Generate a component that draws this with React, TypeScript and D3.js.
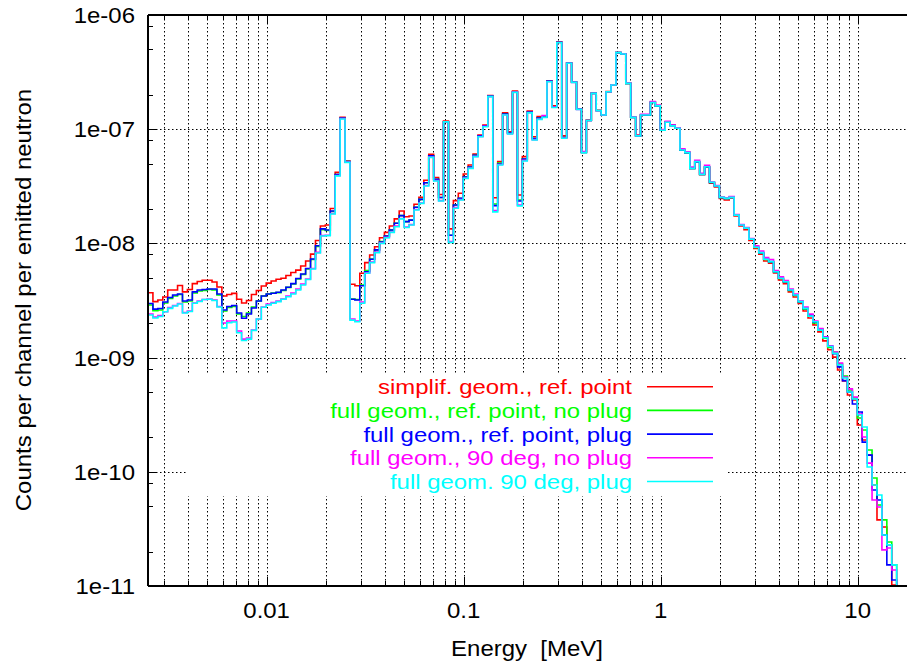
import React from 'react';
import * as d3 from 'd3';

// ---------- binning (log-spaced histogram, 40 bins per decade starting at 2.5 keV) ----------
const FIRST_EDGE = 0.0025; // MeV
const BINS_PER_DECADE = 40;
const N_BINS = 153;
const edges: number[] = d3.range(N_BINS + 1).map((k) => FIRST_EDGE * Math.pow(10, k / BINS_PER_DECADE));

// ---------- series (counts per channel per emitted neutron) ----------
const simplifRefPoint = [
  3.70e-9, 3.09e-9, 3.19e-9, 3.39e-9, 3.91e-9, 3.91e-9, 4.28e-9, 3.76e-9, 3.95e-9, 4.44e-9,
  4.64e-9, 4.75e-9, 4.75e-9, 4.59e-9, 4.15e-9, 3.46e-9, 3.57e-9, 3.65e-9, 3.24e-9, 3.01e-9,
  3.16e-9, 3.57e-9, 3.87e-9, 4.23e-9, 4.49e-9, 4.68e-9, 4.85e-9, 4.95e-9, 5.24e-9, 5.56e-9,
  5.84e-9, 6.34e-9, 7.01e-9, 8.06e-9, 1.06e-8, 1.42e-8, 1.45e-8, 2.02e-8, 4.19e-8, 1.27e-7,
  5.27e-8, 4.39e-9, 4.26e-9, 5.47e-9, 6.79e-9, 7.91e-9, 9.35e-9, 1.12e-8, 1.25e-8, 1.42e-8,
  1.64e-8, 1.92e-8, 1.71e-8, 1.74e-8, 2.20e-8, 2.53e-8, 3.57e-8, 6.03e-8, 3.78e-8, 2.68e-8,
  1.18e-7, 1.34e-8, 2.37e-8, 2.75e-8, 4.05e-8, 4.86e-8, 6.05e-8, 8.90e-8, 1.09e-7, 1.97e-7,
  2.51e-8, 5.20e-8, 1.39e-7, 9.50e-8, 2.16e-7, 2.65e-8, 5.75e-8, 1.44e-7, 8.60e-8, 1.29e-7,
  1.29e-7, 2.66e-7, 1.60e-7, 5.81e-7, 8.74e-8, 3.80e-7, 2.59e-7, 1.51e-7, 6.33e-8, 1.20e-7,
  2.07e-7, 1.46e-7, 1.34e-7, 2.14e-7, 2.44e-7, 4.68e-7, 4.55e-7, 2.52e-7, 1.28e-7, 8.90e-8,
  1.33e-7, 1.33e-7, 1.72e-7, 1.60e-7, 9.80e-8, 1.16e-7, 1.08e-7, 1.02e-7, 6.57e-8, 6.23e-8,
  4.54e-8, 5.16e-8, 4.01e-8, 4.66e-8, 3.37e-8, 3.12e-8, 2.47e-8, 2.40e-8, 2.50e-8, 1.74e-8,
  1.42e-8, 1.32e-8, 1.06e-8, 9.01e-9, 8.06e-9, 7.01e-9, 6.72e-9, 5.51e-9, 4.78e-9, 4.44e-9,
  3.76e-9, 3.39e-9, 2.98e-9, 2.56e-9, 2.22e-9, 1.93e-9, 1.68e-9, 1.40e-9, 1.17e-9, 1.01e-9,
  7.79e-10, 6.24e-10, 4.70e-10, 4.25e-10, 2.57e-10, 1.90e-10, 1.40e-10, 7.66e-11, 3.79e-11, 3.29e-11,
  2.29e-11, 1.02e-11, 1e-12,
];

const fullRefPointNoPlug = [
  2.89e-9, 2.58e-9, 2.61e-9, 3.01e-9, 3.29e-9, 3.46e-9, 3.57e-9, 3.07e-9, 3.13e-9, 3.68e-9,
  3.83e-9, 3.87e-9, 3.95e-9, 3.91e-9, 3.53e-9, 2.56e-9, 2.75e-9, 2.80e-9, 2.41e-9, 2.29e-9,
  2.46e-9, 2.77e-9, 3.13e-9, 3.46e-9, 3.61e-9, 3.68e-9, 3.71e-9, 3.87e-9, 4.12e-9, 4.41e-9,
  4.88e-9, 5.34e-9, 5.97e-9, 7.23e-9, 9.39e-9, 1.32e-8, 1.30e-8, 1.90e-8, 4.01e-8, 1.25e-7,
  5.20e-8, 3.26e-9, 3.23e-9, 4.32e-9, 5.78e-9, 7.31e-9, 8.77e-9, 1.04e-8, 1.16e-8, 1.31e-8,
  1.50e-8, 1.75e-8, 1.55e-8, 1.60e-8, 2.07e-8, 2.43e-8, 3.40e-8, 5.84e-8, 3.65e-8, 2.52e-8,
  1.16e-7, 1.18e-8, 2.17e-8, 2.48e-8, 3.82e-8, 4.66e-8, 5.90e-8, 8.74e-8, 1.07e-7, 1.95e-7,
  2.21e-8, 5.06e-8, 1.36e-7, 9.27e-8, 2.12e-7, 2.40e-8, 5.48e-8, 1.41e-7, 8.30e-8, 1.25e-7,
  1.28e-7, 2.64e-7, 1.57e-7, 5.78e-7, 8.46e-8, 3.80e-7, 2.59e-7, 1.50e-7, 6.25e-8, 1.19e-7,
  2.06e-7, 1.46e-7, 1.33e-7, 2.13e-7, 2.44e-7, 4.68e-7, 4.55e-7, 2.52e-7, 1.27e-7, 8.74e-8,
  1.33e-7, 1.33e-7, 1.72e-7, 1.60e-7, 9.80e-8, 1.16e-7, 1.08e-7, 1.02e-7, 6.57e-8, 6.23e-8,
  4.54e-8, 5.16e-8, 4.01e-8, 4.66e-8, 3.41e-8, 3.18e-8, 2.52e-8, 2.47e-8, 2.53e-8, 1.77e-8,
  1.45e-8, 1.36e-8, 1.09e-8, 9.20e-9, 8.24e-9, 7.23e-9, 6.88e-9, 5.62e-9, 4.93e-9, 4.59e-9,
  3.87e-9, 3.50e-9, 3.07e-9, 2.66e-9, 2.31e-9, 2.01e-9, 1.74e-9, 1.48e-9, 1.23e-9, 1.12e-9,
  8.78e-10, 6.89e-10, 5.21e-10, 4.43e-10, 2.96e-10, 2.32e-10, 1.55e-10, 8.83e-11, 5.12e-11, 3.79e-11,
  2.43e-11, 1.53e-11, 1e-12,
];

const fullRefPointPlug = [
  2.98e-9, 2.66e-9, 2.69e-9, 3.07e-9, 3.36e-9, 3.53e-9, 3.61e-9, 3.13e-9, 3.19e-9, 3.76e-9,
  3.91e-9, 3.95e-9, 3.99e-9, 3.99e-9, 3.61e-9, 2.61e-9, 2.80e-9, 2.86e-9, 2.46e-9, 2.21e-9,
  2.41e-9, 2.72e-9, 3.13e-9, 3.46e-9, 3.61e-9, 3.66e-9, 3.73e-9, 3.91e-9, 4.13e-9, 4.44e-9,
  4.93e-9, 5.40e-9, 6.03e-9, 7.31e-9, 9.53e-9, 1.34e-8, 1.31e-8, 1.92e-8, 4.01e-8, 1.25e-7,
  5.20e-8, 3.24e-9, 3.19e-9, 4.26e-9, 5.65e-9, 7.26e-9, 8.77e-9, 1.03e-8, 1.16e-8, 1.31e-8,
  1.50e-8, 1.75e-8, 1.55e-8, 1.60e-8, 2.07e-8, 2.43e-8, 3.40e-8, 5.84e-8, 3.65e-8, 2.52e-8,
  1.16e-7, 1.18e-8, 2.17e-8, 2.48e-8, 3.82e-8, 4.66e-8, 5.90e-8, 8.74e-8, 1.07e-7, 1.95e-7,
  2.14e-8, 4.96e-8, 1.36e-7, 9.27e-8, 2.12e-7, 2.35e-8, 5.48e-8, 1.41e-7, 8.30e-8, 1.25e-7,
  1.28e-7, 2.64e-7, 1.57e-7, 5.78e-7, 8.46e-8, 3.80e-7, 2.59e-7, 1.50e-7, 6.25e-8, 1.19e-7,
  2.06e-7, 1.46e-7, 1.33e-7, 2.13e-7, 2.44e-7, 4.68e-7, 4.55e-7, 2.52e-7, 1.27e-7, 8.74e-8,
  1.33e-7, 1.33e-7, 1.72e-7, 1.60e-7, 9.80e-8, 1.16e-7, 1.08e-7, 1.02e-7, 6.57e-8, 6.23e-8,
  4.54e-8, 5.16e-8, 4.01e-8, 4.66e-8, 3.41e-8, 3.18e-8, 2.52e-8, 2.47e-8, 2.53e-8, 1.77e-8,
  1.45e-8, 1.36e-8, 1.09e-8, 9.24e-9, 8.30e-9, 7.26e-9, 6.92e-9, 5.65e-9, 4.95e-9, 4.62e-9,
  3.91e-9, 3.53e-9, 3.09e-9, 2.70e-9, 2.36e-9, 2.05e-9, 1.78e-9, 1.51e-9, 1.26e-9, 1.08e-9,
  8.29e-10, 6.29e-10, 5.00e-10, 3.92e-10, 3.34e-10, 1.82e-10, 1.40e-10, 6.93e-11, 5.66e-11, 2.80e-11,
  1.53e-11, 1.13e-11, 1e-12,
];

const full90DegNoPlug = [
  2.41e-9, 2.27e-9, 2.34e-9, 2.52e-9, 2.75e-9, 2.86e-9, 2.98e-9, 2.48e-9, 2.56e-9, 3.01e-9,
  3.13e-9, 3.23e-9, 3.26e-9, 3.19e-9, 2.80e-9, 2.01e-9, 2.09e-9, 2.09e-9, 1.71e-9, 1.45e-9,
  1.48e-9, 1.74e-9, 2.18e-9, 2.77e-9, 2.95e-9, 3.04e-9, 3.13e-9, 3.26e-9, 3.46e-9, 3.68e-9,
  3.99e-9, 4.41e-9, 4.88e-9, 6.03e-9, 8.34e-9, 1.17e-8, 1.18e-8, 1.83e-8, 3.93e-8, 1.24e-7,
  5.16e-8, 2.18e-9, 2.09e-9, 3.07e-9, 5.51e-9, 6.88e-9, 8.42e-9, 1.01e-8, 1.13e-8, 1.26e-8,
  1.42e-8, 1.65e-8, 1.39e-8, 1.46e-8, 1.98e-8, 2.26e-8, 3.21e-8, 5.70e-8, 3.55e-8, 2.37e-8,
  1.16e-7, 1.04e-8, 2.06e-8, 2.42e-8, 3.74e-8, 4.57e-8, 5.78e-8, 8.63e-8, 1.06e-7, 1.93e-7,
  1.94e-8, 4.91e-8, 1.34e-7, 9.13e-8, 2.12e-7, 2.17e-8, 5.33e-8, 1.40e-7, 8.11e-8, 1.23e-7,
  1.32e-7, 2.62e-7, 1.56e-7, 5.75e-7, 8.36e-8, 3.78e-7, 2.57e-7, 1.49e-7, 6.38e-8, 1.19e-7,
  2.06e-7, 1.45e-7, 1.33e-7, 2.13e-7, 2.45e-7, 4.69e-7, 4.58e-7, 2.54e-7, 1.28e-7, 8.79e-8,
  1.35e-7, 1.35e-7, 1.75e-7, 1.63e-7, 9.94e-8, 1.17e-7, 1.09e-7, 1.03e-7, 6.72e-8, 6.33e-8,
  4.66e-8, 5.33e-8, 4.10e-8, 4.82e-8, 3.45e-8, 3.21e-8, 2.55e-8, 2.50e-8, 2.57e-8, 1.79e-8,
  1.46e-8, 1.38e-8, 1.10e-8, 9.53e-9, 8.58e-9, 7.50e-9, 7.23e-9, 5.78e-9, 5.09e-9, 4.73e-9,
  3.99e-9, 3.61e-9, 3.13e-9, 2.77e-9, 2.41e-9, 2.09e-9, 1.80e-9, 1.51e-9, 1.26e-9, 1.12e-9,
  8.96e-10, 6.77e-10, 5.32e-10, 4.52e-10, 3.21e-10, 2.02e-10, 1.19e-10, 5.66e-11, 4.92e-11, 2.07e-11,
  2.15e-11, 1.38e-11, 1e-12,
];

const full90DegPlug = [
  2.36e-9, 2.22e-9, 2.29e-9, 2.52e-9, 2.70e-9, 2.83e-9, 2.95e-9, 2.46e-9, 2.53e-9, 2.99e-9,
  3.10e-9, 3.23e-9, 3.24e-9, 3.16e-9, 2.77e-9, 1.82e-9, 2.02e-9, 2.05e-9, 1.65e-9, 1.41e-9,
  1.45e-9, 1.73e-9, 2.18e-9, 2.76e-9, 2.89e-9, 2.99e-9, 3.09e-9, 3.24e-9, 3.41e-9, 3.61e-9,
  3.91e-9, 4.32e-9, 4.83e-9, 5.97e-9, 8.24e-9, 1.16e-8, 1.17e-8, 1.81e-8, 3.90e-8, 1.23e-7,
  5.12e-8, 2.13e-9, 2.06e-9, 2.99e-9, 5.47e-9, 6.79e-9, 8.30e-9, 1.00e-8, 1.12e-8, 1.25e-8,
  1.40e-8, 1.64e-8, 1.38e-8, 1.45e-8, 1.96e-8, 2.24e-8, 3.18e-8, 5.67e-8, 3.52e-8, 2.35e-8,
  1.16e-7, 1.02e-8, 2.03e-8, 2.40e-8, 3.71e-8, 4.54e-8, 5.75e-8, 8.60e-8, 1.05e-7, 1.93e-7,
  1.89e-8, 4.86e-8, 1.33e-7, 9.08e-8, 2.10e-7, 2.13e-8, 5.27e-8, 1.39e-7, 8.04e-8, 1.22e-7,
  1.27e-7, 2.60e-7, 1.55e-7, 5.72e-7, 8.32e-8, 3.78e-7, 2.57e-7, 1.49e-7, 6.23e-8, 1.19e-7,
  2.06e-7, 1.45e-7, 1.33e-7, 2.13e-7, 2.44e-7, 4.68e-7, 4.55e-7, 2.52e-7, 1.27e-7, 8.74e-8,
  1.33e-7, 1.33e-7, 1.71e-7, 1.60e-7, 9.80e-8, 1.15e-7, 1.07e-7, 1.02e-7, 6.57e-8, 6.23e-8,
  4.54e-8, 5.20e-8, 4.03e-8, 4.69e-8, 3.43e-8, 3.18e-8, 2.53e-8, 2.48e-8, 2.53e-8, 1.77e-8,
  1.45e-8, 1.36e-8, 1.09e-8, 9.24e-9, 8.30e-9, 7.26e-9, 6.92e-9, 5.65e-9, 4.95e-9, 4.62e-9,
  3.91e-9, 3.53e-9, 3.09e-9, 2.70e-9, 2.31e-9, 2.06e-9, 1.74e-9, 1.49e-9, 1.25e-9, 1.09e-9,
  8.61e-10, 6.63e-10, 5.00e-10, 4.34e-10, 3.14e-10, 2.47e-10, 1.10e-10, 7.66e-11, 6.27e-11, 2.80e-11,
  2.29e-11, 1.53e-11, 1e-12,
];

const seriesLabels = [
  'simplif. geom., ref. point',
  'full geom., ref. point, no plug',
  'full geom., ref. point, plug',
  'full geom., 90 deg, no plug',
  'full geom. 90 deg, plug',
];
const seriesColors = ['#ff0000', '#00ff00', '#0000ff', '#ff00ff', '#00ffff'];
const seriesData = [simplifRefPoint, fullRefPointNoPlug, fullRefPointPlug, full90DegNoPlug, full90DegPlug];

const xTickValues = [0.01, 0.1, 1, 10];
const xTickLabels = ['0.01', '0.1', '1', '10'];
const yTickValues = [1e-6, 1e-7, 1e-8, 1e-9, 1e-10, 1e-11];
const yTickLabels = ['1e-06', '1e-07', '1e-08', '1e-09', '1e-10', '1e-11'];
const yMinorMantissas = [2, 5, 8];

const xLabel = 'Energy  [MeV]';
const yLabel = 'Counts per channel per emitted neutron';

// ---------- layout ----------
const W = 907;
const H = 662;
const L = 148;
const R = 917;
const T = 15;
const B = 586;
const FONT = '"Liberation Sans", Arial, Helvetica, sans-serif';
const FS = 22;
const SX = 1.09; // horizontal stretch of the glyphs in the reference
const FS_KEY = 21;
const SX_KEY = 1.14;

export default function App() {
  const x = d3.scaleLog().domain([0.0025, 20]).range([L, R]);
  const y = d3.scaleLog().domain([1e-11, 1e-6]).range([B, T]);

  // vertical grid at every 1..9 x 10^n
  const xGrid: { v: number; major: boolean }[] = [];
  for (let e = -3; e <= 1; e++) {
    for (let m = 1; m <= 9; m++) {
      const v = m * Math.pow(10, e);
      if (v > 0.0025 * 1.0001 && v < 20) xGrid.push({ v, major: m === 1 });
    }
  }
  const yMinor: number[] = [];
  for (let e = -11; e <= -7; e++) {
    for (const m of yMinorMantissas) yMinor.push(m * Math.pow(10, e));
  }
  const yGrid = [1e-7, 1e-8, 1e-9, 1e-10];

  const step = d3
    .line<[number, number]>()
    .x((d) => x(d[0]))
    .y((d) => y(d[1]))
    .curve(d3.curveStepAfter);

  const paths = seriesData.map((vals) => {
    const pts: [number, number][] = vals.map((v, i) => [edges[i], v]);
    pts.push([edges[vals.length], vals[vals.length - 1]]);
    return step(pts) || '';
  });

  const legendX0 = 186;
  const legendX1 = 727;
  const legendY0 = 374;
  const legendY1 = 496;
  const rowY = (i: number) => 386.7 + i * 23.7;

  return (
    <div style={{ position: 'absolute', left: 0, top: 0 }}>
      <svg width={W} height={H} viewBox={`0 0 ${W} ${H}`} style={{ display: 'block', background: '#fff' }}>
        <defs>
          <clipPath id="plotClip">
            <rect x={L} y={T} width={R - L} height={B - T} />
          </clipPath>
        </defs>
        <rect x={0} y={0} width={W} height={H} fill="#fff" />

        {/* grid */}
        <g>
          {xGrid.map((g, i) => (
            <line key={'xg' + i} x1={Math.round(x(g.v)) + 0.5} x2={Math.round(x(g.v)) + 0.5} y1={T} y2={B}
              stroke="#000" strokeWidth={1} strokeDasharray="1.5,2.5" />
          ))}
          {yGrid.map((v, i) => (
            <line key={'yg' + i} x1={L} x2={R} y1={Math.round(y(v)) + 0.5} y2={Math.round(y(v)) + 0.5}
              stroke="#000" strokeWidth={1} strokeDasharray="1.5,2.5" />
          ))}
        </g>

        {/* opaque key box */}
        <rect x={legendX0} y={legendY0} width={legendX1 - legendX0} height={legendY1 - legendY0} fill="#fff" />

        {/* data */}
        <g clipPath="url(#plotClip)">
          {paths.map((p, i) => (
            <path key={'s' + i} d={p} fill="none" stroke={seriesColors[i]} strokeWidth={1.6} strokeLinejoin="miter" />
          ))}
        </g>

        {/* ticks */}
        <g stroke="#000" strokeWidth={1}>
          {xGrid.map((g, i) => {
            const xx = Math.round(x(g.v)) + 0.5;
            const len = g.major ? 9 : 5;
            return (
              <g key={'xt' + i}>
                <line x1={xx} x2={xx} y1={B} y2={B - len} />
                <line x1={xx} x2={xx} y1={T} y2={T + len} />
              </g>
            );
          })}
          {yTickValues.map((v, i) => (
            <line key={'ytM' + i} x1={L} x2={L + 9} y1={Math.round(y(v)) + 0.5} y2={Math.round(y(v)) + 0.5} />
          ))}
          {yMinor.map((v, i) => (
            <line key={'ytm' + i} x1={L} x2={L + 5} y1={Math.round(y(v)) + 0.5} y2={Math.round(y(v)) + 0.5} />
          ))}
        </g>

        {/* border */}
        <g stroke="#000" strokeWidth={2} fill="none">
          <line x1={L} x2={R} y1={T} y2={T} />
          <line x1={L} x2={R} y1={B} y2={B} />
          <line x1={L} x2={L} y1={T} y2={B} />
          <line x1={R} x2={R} y1={T} y2={B} />
        </g>

        {/* tick labels */}
        <g fontFamily={FONT} fontSize={FS} fill="#000">
          {xTickValues.map((v, i) => (
            <text key={'xl' + i} transform={`translate(${x(v)},618) scale(${SX},1)`} textAnchor="middle">{xTickLabels[i]}</text>
          ))}
          {yTickValues.map((v, i) => (
            <text key={'yl' + i} transform={`translate(135,${y(v) + 8}) scale(${SX},1)`} textAnchor="end">{yTickLabels[i]}</text>
          ))}
          <text transform={`translate(527,656) scale(${SX},1)`} textAnchor="middle" style={{ whiteSpace: 'pre' }}>{xLabel}</text>
          <text transform={`translate(31,300) rotate(-90) scale(${SX},1)`} textAnchor="middle">{yLabel}</text>
        </g>

        {/* legend */}
        <g fontFamily={FONT} fontSize={FS_KEY}>
          {seriesLabels.map((lab, i) => (
            <g key={'lg' + i}>
              <text transform={`translate(632,${rowY(i) + 7.5}) scale(${SX_KEY},1)`} textAnchor="end" fill={seriesColors[i]}>{lab}</text>
              <line x1={647} x2={713} y1={rowY(i)} y2={rowY(i)} stroke={seriesColors[i]} strokeWidth={1.6} />
            </g>
          ))}
        </g>
      </svg>
    </div>
  );
}
